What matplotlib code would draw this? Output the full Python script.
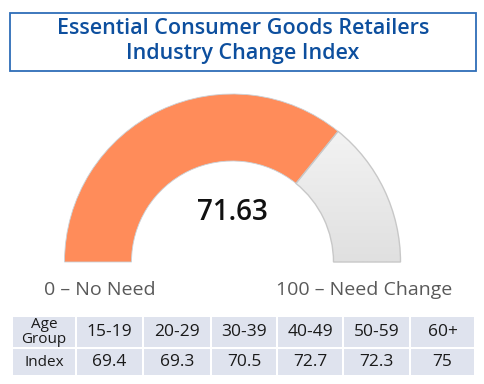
import numpy as np
import matplotlib.pyplot as plt
from matplotlib.patches import Wedge, Rectangle
from matplotlib.colors import LinearSegmentedColormap

title = "Essential Consumer Goods Retailers\nIndustry Change Index"
score = 71.63
gauge_min, gauge_max = 0, 100
low_label = "0 – No Need"
high_label = "100 – Need Change"
age_groups = ["15-19", "20-29", "30-39", "40-49", "50-59", "60+"]
age_index = [69.4, 69.3, 70.5, 72.7, 72.3, 75]

plt.rcParams['font.family'] = ['Open Sans', 'DejaVu Sans']

W, H = 485, 384
fig = plt.figure(figsize=(W / 100, H / 100), dpi=100)
ax = fig.add_axes([0, 0, 1, 1])

# title box
ax.add_patch(Rectangle((10.5, 12.5), 466, 58, fill=False, edgecolor="#2E6DB8", lw=1.3))
ax.text(243, 41, title, ha="center", va="center", color="#0D4F9E",
        fontsize=15.5, linespacing=1.3, fontweight="semibold")

# gauge
cx, cy = 232.5, 262
r_out, r_in = 168, 101
frac = (score - gauge_min) / (gauge_max - gauge_min)
split = 180 - 180 * frac
# y axis is inverted, so angles go clockwise on screen; use negative angles
ax.add_patch(Wedge((cx, cy), r_out, -180, -split, width=r_out - r_in,
                   facecolor="#FF8C5A", edgecolor="#C9D3DA", lw=0.6))
ax.add_patch(Wedge((cx, cy), r_out, -split, 0, width=r_out - r_in,
                   facecolor="none", edgecolor="#C8C8C8", lw=1.0, zorder=2))
grad = np.linspace(0, 1, 100).reshape(-1, 1)
im = ax.imshow(grad, cmap=LinearSegmentedColormap.from_list("g", ["#F8F8F8", "#E0E0E0"]),
               extent=(cx, cx + r_out, cy, cy - r_out), aspect="auto", zorder=0.5)
im.set_clip_path(Wedge((cx, cy), r_out, -split, 0, width=r_out - r_in, transform=ax.transData))

ax.set_xlim(0, W)
ax.set_ylim(H, 0)
ax.axis("off")

ax.text(cx, 213, f"{score:.2f}", ha="center", va="center", fontsize=20,
        color="#111111", fontweight="semibold")

ax.text(100, 290, low_label, ha="center", va="center", fontsize=14, color="#595959")
ax.text(364, 290, high_label, ha="center", va="center", fontsize=14, color="#595959")

# table
col_x = [12, 76, 143, 211, 277, 343, 410, 475]
row_y = [316, 348, 376]
cell_bg = "#DFE3EE"
rows = [["Age\nGroup"] + age_groups, ["Index"] + [f"{v:g}" for v in age_index]]
for r in range(2):
    for c in range(7):
        x0, x1 = col_x[c], col_x[c + 1]
        y0, y1 = row_y[r], row_y[r + 1]
        ax.add_patch(Rectangle((x0 + 1, y0 + 1), x1 - x0 - 2, y1 - y0 - 2,
                               facecolor=cell_bg, edgecolor="none"))
        fs = 11 if c == 0 else 12.5
        ax.text((x0 + x1) / 2, (y0 + y1) / 2, rows[r][c], ha="center", va="center",
                fontsize=fs, color="#1A1A1A", linespacing=0.95)

fig.savefig("out.png", dpi=100)
